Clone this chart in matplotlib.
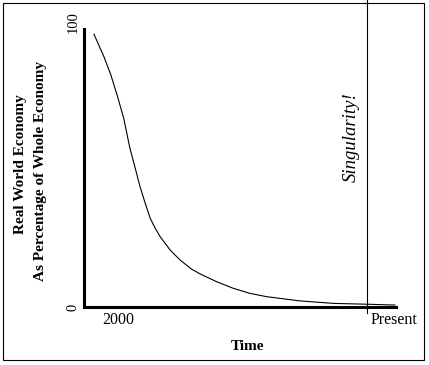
import matplotlib
matplotlib.use("Agg")
import matplotlib.pyplot as plt
from matplotlib.patches import Rectangle

# curve (time in arbitrary units 0..100, value in %)
time = [3.2, 6.4, 8.6, 10.7, 12.7, 14.7, 16.5, 17.9, 19.6, 21.3, 22.9, 24.4, 27.6, 30.8,
        34.5, 37.2, 42.5, 47.9, 53.2, 58.6, 69.2, 79.9, 90.6, 99.7]
share = [98.1, 90.0, 83.5, 75.9, 68.0, 57.2, 49.6, 43.5, 37.4, 31.7, 28.2, 25.3, 20.5, 16.9,
         13.6, 11.9, 9.1, 6.7, 4.9, 3.7, 2.2, 1.3, 1.0, 0.7]
singularity_x = 90.7
label_2000 = 10.9
label_present = 90.7
y_ticks = [0, 100]

plt.rcParams['font.family'] = ['Liberation Serif', 'DejaVu Serif']

fig = plt.figure(figsize=(4.29, 3.65), dpi=100)
ax = fig.add_axes([84/429, 58/365, 312/429, 278/365])

ax.plot(time, share, color='black', lw=0.8)

ax.set_xlim(0, 100)
ax.set_ylim(0, 100)
for s in ['top', 'right']:
    ax.spines[s].set_visible(False)
for s in ['left', 'bottom']:
    ax.spines[s].set_linewidth(2.2)
ax.set_xticks([])
ax.set_yticks([])

# y tick labels, rotated
ax.text(-0.035, 0.0, "0", transform=ax.transAxes, rotation=90,
        ha='center', va='center', fontsize=10.5)
ax.text(-0.035, 1.025, "100", transform=ax.transAxes, rotation=90,
        ha='center', va='center', fontsize=10.5)

# x labels
ax.text(label_2000, -4.7, "2000", ha='center', va='center', fontsize=11.5)
ax.text(label_present + 1, -4.7, "Present", ha='left', va='center', fontsize=11.5)

# singularity line, running past the frame
ax.axvline(singularity_x, ymin=-0.022, ymax=1.11, color='black', lw=0.8, clip_on=False)
ax.text(singularity_x - 5, 61, "Singularity!", rotation=90, fontstyle='italic',
        ha='center', va='center', fontsize=13.5)

fig.text(248/429, 1 - 346/365, "Time", ha='center', va='center', fontsize=11, fontweight='bold')
fig.text(21/429, 1 - 164/365, "Real World Economy", rotation=90, ha='center', va='center',
         fontsize=11, fontweight='bold')
fig.text(41/429, 1 - 171/365, "As Percentage of Whole Economy", rotation=90, ha='center',
         va='center', fontsize=11, fontweight='bold')

# outer frame
fig.patches.append(Rectangle((3/429, 5/365), 421/429, 357/365, transform=fig.transFigure,
                             fill=False, edgecolor='black', lw=0.8))

fig.savefig("out.png", dpi=100, facecolor='white')
